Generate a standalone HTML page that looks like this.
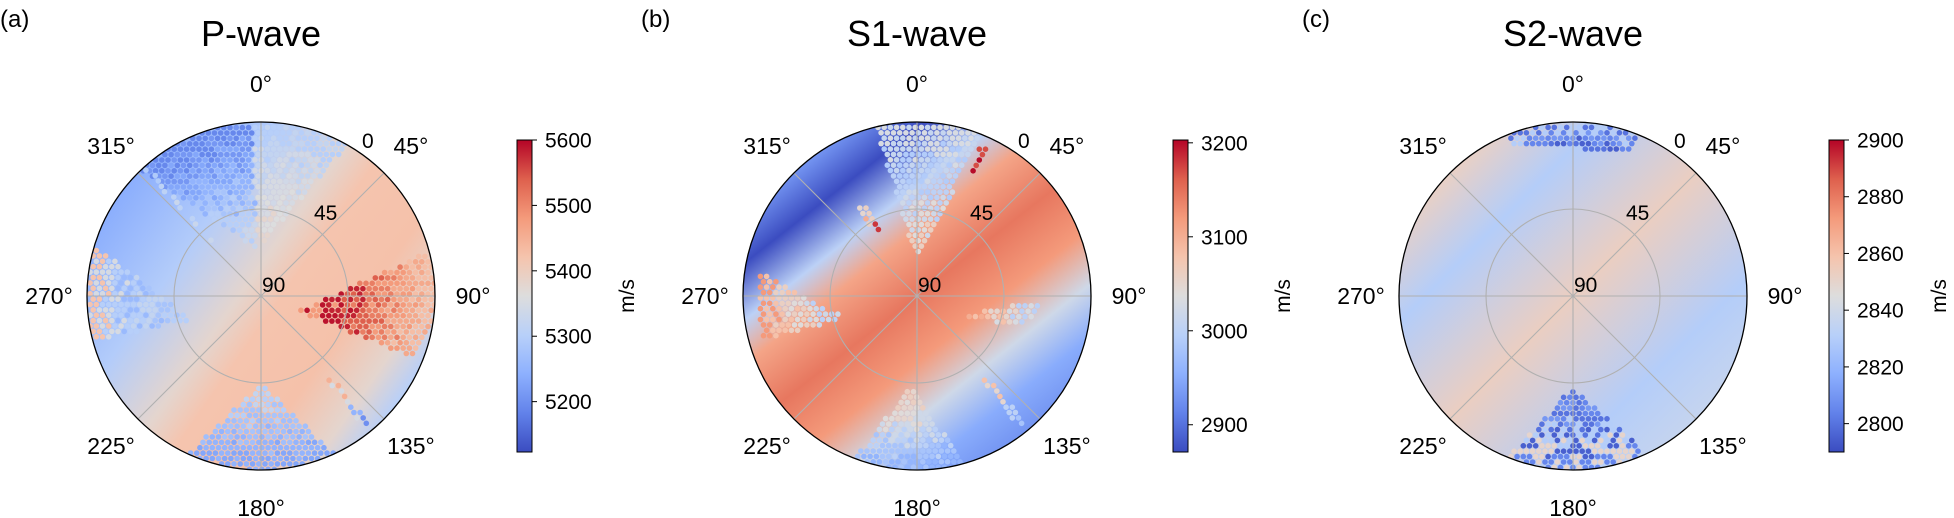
<!DOCTYPE html>
<html><head><meta charset="utf-8">
<style>
html,body{margin:0;padding:0;background:#fff;}
svg{display:block;font-family:"Liberation Sans","DejaVu Sans",sans-serif;}
</style></head>
<body>
<svg id="fig" width="1954" height="518" viewBox="0 0 1954 518" xmlns="http://www.w3.org/2000/svg">
<defs>
  <linearGradient id="cbgrad" x1="0" y1="1" x2="0" y2="0">
    <stop offset="0" stop-color="#3b4cc0"/><stop offset="0.125" stop-color="#6282ea"/>
    <stop offset="0.25" stop-color="#8db0fe"/><stop offset="0.375" stop-color="#b8d0f9"/>
    <stop offset="0.5" stop-color="#dddddd"/><stop offset="0.625" stop-color="#f5c4ad"/>
    <stop offset="0.75" stop-color="#f49a7b"/><stop offset="0.875" stop-color="#de604d"/>
    <stop offset="1" stop-color="#b40426"/>
  </linearGradient>
</defs>
</svg>
<script>
// ---------------- data ----------------
const panelLetters = ['(a)','(b)','(c)'];
const panelTitles = ['P-wave','S1-wave','S2-wave'];
const azimuthTicks = [0,45,90,135,180,225,270,315];
const radialTicks = ['90','45','0'];
const cbTicksA = [5200,5300,5400,5500,5600];
const cbTicksB = [2900,3000,3100,3200];
const cbTicksC = [2800,2820,2840,2860,2880,2900];
const cbRangeA = [5123,5600];
const cbRangeB = [2871,3203];
const cbRangeC = [2790,2900];
// cluster polygons [azimuth deg, radius fraction]; values listed inner -> outer (m/s)
const clusterPolysA = [
  [[-5,0.27],[-44,1],[-30,1],[-15,1],[-3,1]],
  [[-3,0.27],[-3,1],[10,1],[20,1],[30,1]],
  [[317,0.42],[317.2,1],[319,1],[318.5,0.42]],
  [[251,0.42],[287,1],[275,1],[265,1],[255,1]],
  [[113,0.23],[75,1],[88,1],[100,1],[112,0.93]],
  [[180,0.5],[155,1],[168,1],[180,1],[193,1],[205,1]],
  [[139,0.6],[139.5,0.98],[142,0.98],[141.5,0.6]]
];
const clusterValsA = [
  [5330,5300,5280,5250,5230,5210,5190],
  [5380,5360,5350,5340,5320,5300],
  [5330,5310,5290],
  [5300,5280,5320,5260,5300,5350,5420],
  [5480,5590,5580,5540,5510,5480,5460,5430],
  [5320,5300,5280,5270,5250,5230],
  [5450,5350,5250,5200]
];
const clusterPolysB = [
  [[0,0.2],[-14,1],[0,1],[12,1],[22,1]],
  [[326,0.43],[326,0.62],[330,0.62],[330,0.43]],
  [[23,0.78],[23,0.95],[26,0.95],[26,0.78]],
  [[253,0.43],[279,0.92],[266,0.92],[254,0.92]],
  [[114,0.27],[92,0.72],[100,0.7],[107,0.58]],
  [[139,0.6],[139,0.95],[142,0.95],[142,0.6]],
  [[184,0.52],[164,1],[175,1],[190,1],[201,1]]
];
const clusterValsB = [
  [3060,3040,3020,3000,2990,3010,3030],
  [3180,3100,3060,3050],
  [3200,3170,3150],
  [3000,3020,3040,3060,3080,3120],
  [3100,3080,3050,3030,3000],
  [3080,3050,3000,2980],
  [3060,3050,3040,3020,3000,2980,2960]
];
const clusterPolysC = [
  [[-22,0.93],[-22,1],[0,1],[22,1],[22,0.9],[8,0.83],[0,0.87]],
  [[180,0.52],[155,1],[168,1],[180,1],[192,1],[202,1]]
];
const clusterValsC = [
  [2800,2795,2805,2810,2830,2800],
  [2800,2805,2810,2800,2830,2795,2850,2805]
];
// background field stops: [t along axis, value]
const bgAxisA = 305, bgAxisB = 322, bgAxisC = 315;
const bgStopsA = [[0,5240],[0.25,5295],[0.45,5380],[0.55,5420],[0.75,5425],[0.9,5380],[1,5300]];
const bgStopsB = [[0,2930],[0.12,2871],[0.25,3000],[0.35,3110],[0.5,3145],[0.65,3120],[0.78,3020],[0.9,2950],[1,2930]];
const bgStopsC = [[0,2852],[0.2,2830],[0.5,2853],[0.82,2830],[1,2836]];

// ---------------- layout ----------------
const NS='http://www.w3.org/2000/svg';
const svg=document.getElementById('fig');
const R=174, CY=296;
const centers=[261,917,1573];
const letterX=[0,641,1302];
const cbX=[517,1173,1829], cbTop=140, cbBot=452, cbW=15;

const cmapStops=[[59,76,192],[98,130,234],[141,176,254],[184,208,249],[221,221,221],[245,196,173],[244,154,123],[222,96,77],[180,4,38]];
function cmap(t){t=Math.max(0,Math.min(1,t));const p=t*8,i=Math.min(7,Math.floor(p)),f=p-i;
  const a=cmapStops[i],b=cmapStops[i+1];
  return 'rgb('+a.map((v,k)=>Math.round(v+(b[k]-v)*f)).join(',')+')';}
function el(tag,attrs,parent){const e=document.createElementNS(NS,tag);for(const k in attrs)e.setAttribute(k,attrs[k]);(parent||svg).appendChild(e);return e;}
function pol(cx,az,rho){const a=az*Math.PI/180;return [cx+rho*R*Math.sin(a),CY-rho*R*Math.cos(a)];}
function polyPts(cx,poly){
  const pts=[];
  for(let i=0;i<poly.length;i++){
    const p=poly[i],q=poly[(i+1)%poly.length];
    pts.push(pol(cx,p[0],p[1]));
    if(p[1]===1&&q[1]===1){for(let s=1;s<6;s++){pts.push(pol(cx,p[0]+(q[0]-p[0])*s/6,1));}}
  }
  return pts;
}
function inside(pt,poly){let c=false;for(let i=0,j=poly.length-1;i<poly.length;j=i++){
  const [xi,yi]=poly[i],[xj,yj]=poly[j];
  if(((yi>pt[1])!==(yj>pt[1]))&&(pt[0]<(xj-xi)*(pt[1]-yi)/(yj-yi)+xi))c=!c;}return c;}

function panel(idx,range,ticks,axisAz,bgStops,polys,vals){
  const cx=centers[idx];
  const g=el('g',{});
  
  
  const norm=v=>(v-range[0])/(range[1]-range[0]);
  const lt=el('text',{x:letterX[idx],y:27,'font-size':24,fill:'#000'},g);
  lt.textContent=panelLetters[idx];
  
  
  const tt=el('text',{x:cx,y:46,'font-size':36,'text-anchor':'middle',fill:'#000'},g);
  tt.textContent=panelTitles[idx];
  
  
  const defs=svg.querySelector('defs');
  const p0=pol(cx,axisAz,1),p1=pol(cx,axisAz+180,1);
  const lg=el('linearGradient',{id:'bg'+idx,gradientUnits:'userSpaceOnUse',x1:p0[0],y1:p0[1],x2:p1[0],y2:p1[1]},defs);
  bgStops.forEach(s=>el('stop',{offset:s[0],'stop-color':cmap(norm(s[1]))},lg));
  const cp=el('clipPath',{id:'clip'+idx},defs);
  el('circle',{cx:cx,cy:CY,r:R},cp);
  const bg=el('circle',{cx:cx,cy:CY,r:R,fill:'url(#bg'+idx+')'},g);
  
  
  const dg=el('g',{'clip-path':'url(#clip'+idx+')'},g);
  polys.forEach((poly,ci)=>{
    const pts=polyPts(cx,poly);
    const xs=pts.map(p=>p[0]),ys=pts.map(p=>p[1]);
    const x0=Math.min(...xs),x1=Math.max(...xs),y0=Math.min(...ys),y1=Math.max(...ys);
    const rhos=poly.map(p=>p[1]);
    const rmin=Math.min(...rhos),rmax=Math.max(...rhos);
    const v=vals[ci];const step=6.2;
    const cg=el('g',{},dg);
    
    
    let row=0;
    for(let y=y0;y<=y1+1;y+=step*0.87,row++){
      let col=0;
      for(let x=x0+(row%2?step/2:0);x<=x1+1;x+=step,col++){
        if(inside([x,y],pts)){
          const rho=Math.hypot(x-cx,y-CY)/R;
          const f=rmax>rmin?(rho-rmin)/(rmax-rmin):0.5;
          const h=((row*73+col*37+row*col*11)%13)/13;
          let i=Math.floor(f*v.length+(h-0.5)*2.4);
          i=Math.max(0,Math.min(v.length-1,i));
          const d=el('circle',{cx:x.toFixed(1),cy:y.toFixed(1),r:2.8,fill:cmap(norm(v[i]))},cg);
          
          
        }
      }
    }
  });
  const gg=el('g',{stroke:'#b0b0b0','stroke-width':1.1,fill:'none'},g);
  
  
  azimuthTicks.forEach(a=>{const p=pol(cx,a,1);el('line',{x1:cx,y1:CY,x2:p[0],y2:p[1]},gg);});
  el('circle',{cx:cx,cy:CY,r:R/2},gg);
  const oc=el('circle',{cx:cx,cy:CY,r:R,fill:'none',stroke:'#000','stroke-width':1.3},g);
  
  
  azimuthTicks.forEach(a=>{const p=pol(cx,a,212/R);
    const t=el('text',{x:p[0],y:p[1]+8,'font-size':23,'text-anchor':'middle',fill:'#000'},g);
    t.textContent=a+'°';
    
    });
  const rl=[[cx+1,292],[cx+53,220],[cx+101,148]];
  radialTicks.forEach((s,i)=>{const t=el('text',{x:rl[i][0],y:rl[i][1],'font-size':21,fill:'#000'},g);
    t.textContent=s;
    
    });
  const bx=cbX[idx];
  const cb=el('rect',{x:bx,y:cbTop,width:cbW,height:cbBot-cbTop,fill:'url(#cbgrad)',stroke:'#000','stroke-width':1},g);
  
  
  ticks.forEach(v=>{const y=cbBot-(v-range[0])/(range[1]-range[0])*(cbBot-cbTop);
    el('line',{x1:bx+cbW,y1:y,x2:bx+cbW+5,y2:y,stroke:'#000','stroke-width':1},g);
    const t=el('text',{x:bx+cbW+13,y:y+7.5,'font-size':21,fill:'#000'},g);
    t.textContent=v;
    
    });
  const ul=el('text',{x:0,y:0,'font-size':21,'text-anchor':'middle',fill:'#000',transform:'translate('+(bx+117)+','+CY+') rotate(-90)'},g);
  ul.textContent='m/s';
  
  
}
panel(0,cbRangeA,cbTicksA,bgAxisA,bgStopsA,clusterPolysA,clusterValsA);
panel(1,cbRangeB,cbTicksB,bgAxisB,bgStopsB,clusterPolysB,clusterValsB);
panel(2,cbRangeC,cbTicksC,bgAxisC,bgStopsC,clusterPolysC,clusterValsC);
</script>
</body></html>
